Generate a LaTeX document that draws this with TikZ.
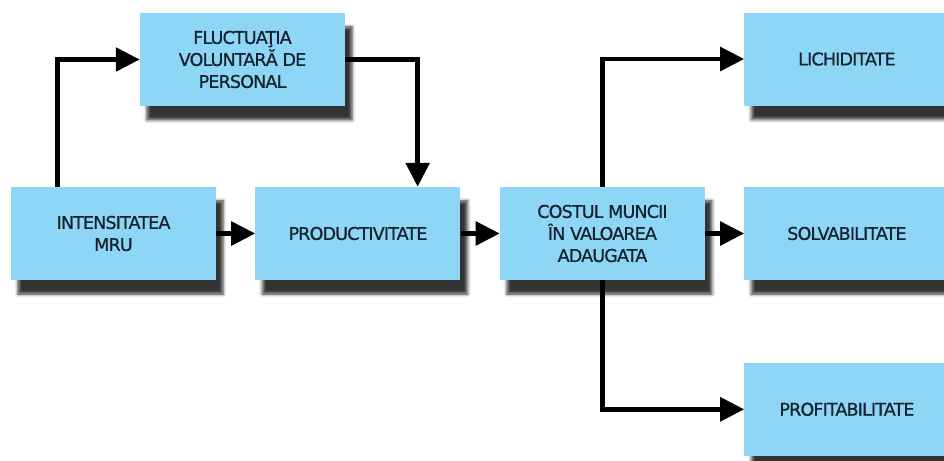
\documentclass[tikz,border=0pt]{standalone}
\usepackage{fontspec}
\newfontfamily\boxfont[LetterSpace=-5, FakeBold=0.6]{DejaVu Sans}
\usetikzlibrary{positioning,arrows.meta,shadows.blur}

\definecolor{boxblue}{RGB}{141,214,245}
\definecolor{boxtext}{RGB}{22,32,46}

\begin{document}
\begin{tikzpicture}[x=0.03cm, y=-0.03cm, node distance=1.17cm,
    box/.style={fill=boxblue, minimum width=6.15cm, minimum height=2.79cm, inner sep=0pt, align=center, text=boxtext,
        font=\boxfont\fontsize{15}{18.8}\selectfont,
        blur shadow={shadow xshift=0.21cm, shadow yshift=-0.42cm, shadow blur radius=0.1cm, shadow opacity=80}},
    arr/.style={line width=4pt, -{Triangle[length=0.72cm, width=0.7cm]}}]
    \useasboundingbox (0,0) rectangle (944,461);
    \node[box] (intens) at (113.5,233.5) {INTENSITATEA \\ MRU};
    \node[box, right=of intens] (prod) {PRODUCTIVITATE};
    \node[box, right=of prod] (cost) {COSTUL MUNCII \\ ÎN VALOAREA \\ ADAUGATA};
    \node[box, right=of cost] (solv) {SOLVABILITATE};
    \node[box, above=2.43cm of solv] (lich) {LICHIDITATE};
    \node[box, below=2.47cm of solv] (prof) {PROFITABILITATE};
    \node[box] (fluct) at (242.5,59.5) {FLUCTUAŢIA \\ VOLUNTARĂ DE \\ PERSONAL};
    % conexiuni
    \draw[arr] ([xshift=-1.67cm]intens.north) |- (fluct.west);
    \draw[arr] (fluct.east) -| ([xshift=1.79cm]prod.north);
    \draw[arr] (intens) -- (prod);
    \draw[arr] (prod) -- (cost);
    \draw[arr] (cost) -- (solv);
    \draw[arr] (cost.north) |- (lich.west);
    \draw[arr] (cost.south) |- (prof.west);
\end{tikzpicture}
\end{document}
